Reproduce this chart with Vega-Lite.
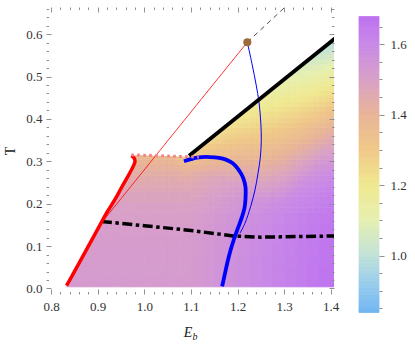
{
"$schema":"https://vega.github.io/schema/vega-lite/v6.json",
"width":288,"height":287,
"autosize":{"type":"none"},
"padding":{"left":46,"top":7,"right":81,"bottom":55},
"config":{"view":{"stroke":null},"axis":{"labelFont":"Liberation Serif","labelFontSize":13,"labelColor":"#333","tickColor":"#909090","tickWidth":1,"domain":false,"grid":false,"titleFont":"Liberation Serif","titleFontWeight":"normal","titleColor":"#222","labelOverlap":false,"labelFlush":false}},
"datasets":{
"hm":[
{"e":0.825,"t":0.005,"v":1.519},{"e":0.85,"t":0.005,"v":1.519},{"e":0.875,"t":0.005,"v":1.519},{"e":0.9,"t":0.005,"v":1.519},{"e":0.925,"t":0.005,"v":1.519},{"e":0.95,"t":0.005,"v":1.519},{"e":0.975,"t":0.005,"v":1.519},{"e":1.0,"t":0.005,"v":1.519},{"e":1.025,"t":0.005,"v":1.519},{"e":1.05,"t":0.005,"v":1.519},{"e":1.075,"t":0.005,"v":1.519},{"e":1.1,"t":0.005,"v":1.525},{"e":1.125,"t":0.005,"v":1.538},{"e":1.15,"t":0.005,"v":1.55},{"e":1.175,"t":0.005,"v":1.563},{"e":1.2,"t":0.005,"v":1.575},{"e":1.225,"t":0.005,"v":1.588},{"e":1.25,"t":0.005,"v":1.6},{"e":1.275,"t":0.005,"v":1.613},{"e":1.3,"t":0.005,"v":1.625},{"e":1.325,"t":0.005,"v":1.638},{"e":1.35,"t":0.005,"v":1.65},{"e":1.375,"t":0.005,"v":1.663},{"e":1.4,"t":0.005,"v":1.675},
{"e":0.825,"t":0.03,"v":1.518},{"e":0.85,"t":0.03,"v":1.518},{"e":0.875,"t":0.03,"v":1.518},{"e":0.9,"t":0.03,"v":1.518},{"e":0.925,"t":0.03,"v":1.518},{"e":0.95,"t":0.03,"v":1.518},{"e":0.975,"t":0.03,"v":1.518},{"e":1.0,"t":0.03,"v":1.518},{"e":1.025,"t":0.03,"v":1.518},{"e":1.05,"t":0.03,"v":1.518},{"e":1.075,"t":0.03,"v":1.518},{"e":1.1,"t":0.03,"v":1.524},{"e":1.125,"t":0.03,"v":1.537},{"e":1.15,"t":0.03,"v":1.549},{"e":1.175,"t":0.03,"v":1.562},{"e":1.2,"t":0.03,"v":1.574},{"e":1.225,"t":0.03,"v":1.587},{"e":1.25,"t":0.03,"v":1.599},{"e":1.275,"t":0.03,"v":1.612},{"e":1.3,"t":0.03,"v":1.624},{"e":1.325,"t":0.03,"v":1.637},{"e":1.35,"t":0.03,"v":1.649},{"e":1.375,"t":0.03,"v":1.662},{"e":1.4,"t":0.03,"v":1.674},
{"e":0.85,"t":0.055,"v":1.517},{"e":0.875,"t":0.055,"v":1.517},{"e":0.9,"t":0.055,"v":1.517},{"e":0.925,"t":0.055,"v":1.517},{"e":0.95,"t":0.055,"v":1.517},{"e":0.975,"t":0.055,"v":1.517},{"e":1.0,"t":0.055,"v":1.517},{"e":1.025,"t":0.055,"v":1.517},{"e":1.05,"t":0.055,"v":1.517},{"e":1.075,"t":0.055,"v":1.517},{"e":1.1,"t":0.055,"v":1.523},{"e":1.125,"t":0.055,"v":1.536},{"e":1.15,"t":0.055,"v":1.548},{"e":1.175,"t":0.055,"v":1.561},{"e":1.2,"t":0.055,"v":1.573},{"e":1.225,"t":0.055,"v":1.586},{"e":1.25,"t":0.055,"v":1.598},{"e":1.275,"t":0.055,"v":1.611},{"e":1.3,"t":0.055,"v":1.623},{"e":1.325,"t":0.055,"v":1.636},{"e":1.35,"t":0.055,"v":1.648},{"e":1.375,"t":0.055,"v":1.661},{"e":1.4,"t":0.055,"v":1.673},
{"e":0.85,"t":0.08,"v":1.515},{"e":0.875,"t":0.08,"v":1.515},{"e":0.9,"t":0.08,"v":1.515},{"e":0.925,"t":0.08,"v":1.515},{"e":0.95,"t":0.08,"v":1.515},{"e":0.975,"t":0.08,"v":1.515},{"e":1.0,"t":0.08,"v":1.515},{"e":1.025,"t":0.08,"v":1.515},{"e":1.05,"t":0.08,"v":1.515},{"e":1.075,"t":0.08,"v":1.515},{"e":1.1,"t":0.08,"v":1.521},{"e":1.125,"t":0.08,"v":1.534},{"e":1.15,"t":0.08,"v":1.546},{"e":1.175,"t":0.08,"v":1.559},{"e":1.2,"t":0.08,"v":1.571},{"e":1.225,"t":0.08,"v":1.584},{"e":1.25,"t":0.08,"v":1.596},{"e":1.275,"t":0.08,"v":1.609},{"e":1.3,"t":0.08,"v":1.621},{"e":1.325,"t":0.08,"v":1.634},{"e":1.35,"t":0.08,"v":1.646},{"e":1.375,"t":0.08,"v":1.659},{"e":1.4,"t":0.08,"v":1.671},
{"e":0.875,"t":0.105,"v":1.513},{"e":0.9,"t":0.105,"v":1.513},{"e":0.925,"t":0.105,"v":1.513},{"e":0.95,"t":0.105,"v":1.513},{"e":0.975,"t":0.105,"v":1.513},{"e":1.0,"t":0.105,"v":1.513},{"e":1.025,"t":0.105,"v":1.513},{"e":1.05,"t":0.105,"v":1.513},{"e":1.075,"t":0.105,"v":1.513},{"e":1.1,"t":0.105,"v":1.519},{"e":1.125,"t":0.105,"v":1.532},{"e":1.15,"t":0.105,"v":1.544},{"e":1.175,"t":0.105,"v":1.557},{"e":1.2,"t":0.105,"v":1.569},{"e":1.225,"t":0.105,"v":1.582},{"e":1.25,"t":0.105,"v":1.594},{"e":1.275,"t":0.105,"v":1.607},{"e":1.3,"t":0.105,"v":1.619},{"e":1.325,"t":0.105,"v":1.632},{"e":1.35,"t":0.105,"v":1.644},{"e":1.375,"t":0.105,"v":1.657},{"e":1.4,"t":0.105,"v":1.669},
{"e":0.875,"t":0.13,"v":1.509},{"e":0.9,"t":0.13,"v":1.509},{"e":0.925,"t":0.13,"v":1.509},{"e":0.95,"t":0.13,"v":1.509},{"e":0.975,"t":0.13,"v":1.509},{"e":1.0,"t":0.13,"v":1.509},{"e":1.025,"t":0.13,"v":1.509},{"e":1.05,"t":0.13,"v":1.509},{"e":1.075,"t":0.13,"v":1.509},{"e":1.1,"t":0.13,"v":1.515},{"e":1.125,"t":0.13,"v":1.528},{"e":1.15,"t":0.13,"v":1.54},{"e":1.175,"t":0.13,"v":1.553},{"e":1.2,"t":0.13,"v":1.565},{"e":1.225,"t":0.13,"v":1.578},{"e":1.25,"t":0.13,"v":1.59},{"e":1.275,"t":0.13,"v":1.603},{"e":1.3,"t":0.13,"v":1.615},{"e":1.325,"t":0.13,"v":1.628},{"e":1.35,"t":0.13,"v":1.64},{"e":1.375,"t":0.13,"v":1.653},{"e":1.4,"t":0.13,"v":1.665},
{"e":0.9,"t":0.155,"v":1.503},{"e":0.925,"t":0.155,"v":1.503},{"e":0.95,"t":0.155,"v":1.503},{"e":0.975,"t":0.155,"v":1.503},{"e":1.0,"t":0.155,"v":1.503},{"e":1.025,"t":0.155,"v":1.503},{"e":1.05,"t":0.155,"v":1.503},{"e":1.075,"t":0.155,"v":1.503},{"e":1.1,"t":0.155,"v":1.509},{"e":1.125,"t":0.155,"v":1.522},{"e":1.15,"t":0.155,"v":1.534},{"e":1.175,"t":0.155,"v":1.547},{"e":1.2,"t":0.155,"v":1.559},{"e":1.225,"t":0.155,"v":1.572},{"e":1.25,"t":0.155,"v":1.584},{"e":1.275,"t":0.155,"v":1.597},{"e":1.3,"t":0.155,"v":1.609},{"e":1.325,"t":0.155,"v":1.622},{"e":1.35,"t":0.155,"v":1.634},{"e":1.375,"t":0.155,"v":1.647},{"e":1.4,"t":0.155,"v":1.659},
{"e":0.9,"t":0.18,"v":1.493},{"e":0.925,"t":0.18,"v":1.493},{"e":0.95,"t":0.18,"v":1.493},{"e":0.975,"t":0.18,"v":1.493},{"e":1.0,"t":0.18,"v":1.493},{"e":1.025,"t":0.18,"v":1.493},{"e":1.05,"t":0.18,"v":1.493},{"e":1.075,"t":0.18,"v":1.493},
{"e":0.925,"t":0.205,"v":1.48},{"e":0.95,"t":0.205,"v":1.48},{"e":0.975,"t":0.205,"v":1.48},{"e":1.0,"t":0.205,"v":1.48},{"e":1.025,"t":0.205,"v":1.48},{"e":1.05,"t":0.205,"v":1.48},{"e":1.075,"t":0.205,"v":1.48},
{"e":0.925,"t":0.23,"v":1.46}
],
"hf":[
{"e":0.9375,"t":0.23,"v":1.465},{"e":0.9375,"t":0.2425,"v":1.454},{"e":0.9375,"t":0.255,"v":1.443},{"e":0.9375,"t":0.2675,"v":1.429},{"e":0.9375,"t":0.28,"v":1.413},{"e":0.9375,"t":0.2925,"v":1.393},{"e":0.9375,"t":0.305,"v":1.373},
{"e":0.95,"t":0.23,"v":1.465},{"e":0.95,"t":0.2425,"v":1.454},{"e":0.95,"t":0.255,"v":1.443},{"e":0.95,"t":0.2675,"v":1.429},{"e":0.95,"t":0.28,"v":1.413},{"e":0.95,"t":0.2925,"v":1.393},{"e":0.95,"t":0.305,"v":1.373},
{"e":0.9625,"t":0.23,"v":1.465},{"e":0.9625,"t":0.2425,"v":1.454},{"e":0.9625,"t":0.255,"v":1.443},{"e":0.9625,"t":0.2675,"v":1.429},{"e":0.9625,"t":0.28,"v":1.413},{"e":0.9625,"t":0.2925,"v":1.393},{"e":0.9625,"t":0.305,"v":1.373},
{"e":0.975,"t":0.23,"v":1.465},{"e":0.975,"t":0.2425,"v":1.454},{"e":0.975,"t":0.255,"v":1.443},{"e":0.975,"t":0.2675,"v":1.429},{"e":0.975,"t":0.28,"v":1.413},{"e":0.975,"t":0.2925,"v":1.393},{"e":0.975,"t":0.305,"v":1.373},
{"e":0.9875,"t":0.23,"v":1.465},{"e":0.9875,"t":0.2425,"v":1.454},{"e":0.9875,"t":0.255,"v":1.443},{"e":0.9875,"t":0.2675,"v":1.429},{"e":0.9875,"t":0.28,"v":1.413},{"e":0.9875,"t":0.2925,"v":1.393},{"e":0.9875,"t":0.305,"v":1.373},
{"e":1.0,"t":0.23,"v":1.465},{"e":1.0,"t":0.2425,"v":1.454},{"e":1.0,"t":0.255,"v":1.443},{"e":1.0,"t":0.2675,"v":1.429},{"e":1.0,"t":0.28,"v":1.413},{"e":1.0,"t":0.2925,"v":1.393},{"e":1.0,"t":0.305,"v":1.373},
{"e":1.0125,"t":0.23,"v":1.465},{"e":1.0125,"t":0.2425,"v":1.454},{"e":1.0125,"t":0.255,"v":1.443},{"e":1.0125,"t":0.2675,"v":1.429},{"e":1.0125,"t":0.28,"v":1.413},{"e":1.0125,"t":0.2925,"v":1.393},{"e":1.0125,"t":0.305,"v":1.373},
{"e":1.025,"t":0.23,"v":1.465},{"e":1.025,"t":0.2425,"v":1.454},{"e":1.025,"t":0.255,"v":1.443},{"e":1.025,"t":0.2675,"v":1.429},{"e":1.025,"t":0.28,"v":1.413},{"e":1.025,"t":0.2925,"v":1.393},{"e":1.025,"t":0.305,"v":1.373},
{"e":1.0375,"t":0.23,"v":1.465},{"e":1.0375,"t":0.2425,"v":1.454},{"e":1.0375,"t":0.255,"v":1.443},{"e":1.0375,"t":0.2675,"v":1.429},{"e":1.0375,"t":0.28,"v":1.413},{"e":1.0375,"t":0.2925,"v":1.393},{"e":1.0375,"t":0.305,"v":1.373},
{"e":1.05,"t":0.23,"v":1.465},{"e":1.05,"t":0.2425,"v":1.454},{"e":1.05,"t":0.255,"v":1.443},{"e":1.05,"t":0.2675,"v":1.429},{"e":1.05,"t":0.28,"v":1.413},{"e":1.05,"t":0.2925,"v":1.393},{"e":1.05,"t":0.305,"v":1.373},
{"e":1.0625,"t":0.23,"v":1.465},{"e":1.0625,"t":0.2425,"v":1.454},{"e":1.0625,"t":0.255,"v":1.443},{"e":1.0625,"t":0.2675,"v":1.429},{"e":1.0625,"t":0.28,"v":1.405},{"e":1.0625,"t":0.2925,"v":1.38},{"e":1.0625,"t":0.305,"v":1.345},
{"e":1.075,"t":0.23,"v":1.465},{"e":1.075,"t":0.2425,"v":1.454},{"e":1.075,"t":0.255,"v":1.44},{"e":1.075,"t":0.2675,"v":1.42},{"e":1.075,"t":0.28,"v":1.395},{"e":1.075,"t":0.2925,"v":1.365},{"e":1.075,"t":0.305,"v":1.33},
{"e":1.0875,"t":0.23,"v":1.462},{"e":1.0875,"t":0.2425,"v":1.452},{"e":1.0875,"t":0.255,"v":1.438},{"e":1.0875,"t":0.2675,"v":1.415},{"e":1.0875,"t":0.28,"v":1.39},{"e":1.0875,"t":0.2925,"v":1.36},{"e":1.0875,"t":0.305,"v":1.32},
{"e":1.1,"t":0.18,"v":1.499},{"e":1.1,"t":0.1925,"v":1.493},{"e":1.1,"t":0.205,"v":1.486},{"e":1.1,"t":0.2175,"v":1.478},{"e":1.1,"t":0.23,"v":1.468},{"e":1.1,"t":0.2425,"v":1.457},{"e":1.1,"t":0.255,"v":1.446},{"e":1.1,"t":0.2675,"v":1.432},{"e":1.1,"t":0.28,"v":1.394},{"e":1.1,"t":0.2925,"v":1.356},{"e":1.1,"t":0.305,"v":1.318},{"e":1.1,"t":0.3175,"v":1.284},
{"e":1.1125,"t":0.18,"v":1.505},{"e":1.1125,"t":0.1925,"v":1.499},{"e":1.1125,"t":0.205,"v":1.493},{"e":1.1125,"t":0.2175,"v":1.484},{"e":1.1125,"t":0.23,"v":1.474},{"e":1.1125,"t":0.2425,"v":1.464},{"e":1.1125,"t":0.255,"v":1.452},{"e":1.1125,"t":0.2675,"v":1.438},{"e":1.1125,"t":0.28,"v":1.403},{"e":1.1125,"t":0.2925,"v":1.368},{"e":1.1125,"t":0.305,"v":1.334},{"e":1.1125,"t":0.3175,"v":1.299},{"e":1.1125,"t":0.33,"v":1.273},
{"e":1.125,"t":0.18,"v":1.511},{"e":1.125,"t":0.1925,"v":1.505},{"e":1.125,"t":0.205,"v":1.499},{"e":1.125,"t":0.2175,"v":1.491},{"e":1.125,"t":0.23,"v":1.481},{"e":1.125,"t":0.2425,"v":1.47},{"e":1.125,"t":0.255,"v":1.458},{"e":1.125,"t":0.2675,"v":1.441},{"e":1.125,"t":0.28,"v":1.409},{"e":1.125,"t":0.2925,"v":1.378},{"e":1.125,"t":0.305,"v":1.346},{"e":1.125,"t":0.3175,"v":1.314},{"e":1.125,"t":0.33,"v":1.282},{"e":1.125,"t":0.3425,"v":1.262},
{"e":1.1375,"t":0.18,"v":1.517},{"e":1.1375,"t":0.1925,"v":1.512},{"e":1.1375,"t":0.205,"v":1.505},{"e":1.1375,"t":0.2175,"v":1.497},{"e":1.1375,"t":0.23,"v":1.487},{"e":1.1375,"t":0.2425,"v":1.476},{"e":1.1375,"t":0.255,"v":1.465},{"e":1.1375,"t":0.2675,"v":1.444},{"e":1.1375,"t":0.28,"v":1.415},{"e":1.1375,"t":0.2925,"v":1.385},{"e":1.1375,"t":0.305,"v":1.355},{"e":1.1375,"t":0.3175,"v":1.325},{"e":1.1375,"t":0.33,"v":1.296},{"e":1.1375,"t":0.3425,"v":1.266},{"e":1.1375,"t":0.355,"v":1.251},
{"e":1.15,"t":0.18,"v":1.524},{"e":1.15,"t":0.1925,"v":1.518},{"e":1.15,"t":0.205,"v":1.511},{"e":1.15,"t":0.2175,"v":1.503},{"e":1.15,"t":0.23,"v":1.493},{"e":1.15,"t":0.2425,"v":1.482},{"e":1.15,"t":0.255,"v":1.471},{"e":1.15,"t":0.2675,"v":1.447},{"e":1.15,"t":0.28,"v":1.419},{"e":1.15,"t":0.2925,"v":1.391},{"e":1.15,"t":0.305,"v":1.363},{"e":1.15,"t":0.3175,"v":1.335},{"e":1.15,"t":0.33,"v":1.307},{"e":1.15,"t":0.3425,"v":1.279},{"e":1.15,"t":0.355,"v":1.251},{"e":1.15,"t":0.3675,"v":1.239},
{"e":1.1625,"t":0.18,"v":1.53},{"e":1.1625,"t":0.1925,"v":1.524},{"e":1.1625,"t":0.205,"v":1.518},{"e":1.1625,"t":0.2175,"v":1.509},{"e":1.1625,"t":0.23,"v":1.499},{"e":1.1625,"t":0.2425,"v":1.489},{"e":1.1625,"t":0.255,"v":1.474},{"e":1.1625,"t":0.2675,"v":1.448},{"e":1.1625,"t":0.28,"v":1.421},{"e":1.1625,"t":0.2925,"v":1.395},{"e":1.1625,"t":0.305,"v":1.368},{"e":1.1625,"t":0.3175,"v":1.342},{"e":1.1625,"t":0.33,"v":1.315},{"e":1.1625,"t":0.3425,"v":1.289},{"e":1.1625,"t":0.355,"v":1.262},{"e":1.1625,"t":0.3675,"v":1.236},{"e":1.1625,"t":0.38,"v":1.228},
{"e":1.175,"t":0.18,"v":1.536},{"e":1.175,"t":0.1925,"v":1.53},{"e":1.175,"t":0.205,"v":1.524},{"e":1.175,"t":0.2175,"v":1.516},{"e":1.175,"t":0.23,"v":1.506},{"e":1.175,"t":0.2425,"v":1.495},{"e":1.175,"t":0.255,"v":1.472},{"e":1.175,"t":0.2675,"v":1.447},{"e":1.175,"t":0.28,"v":1.422},{"e":1.175,"t":0.2925,"v":1.397},{"e":1.175,"t":0.305,"v":1.372},{"e":1.175,"t":0.3175,"v":1.346},{"e":1.175,"t":0.33,"v":1.321},{"e":1.175,"t":0.3425,"v":1.296},{"e":1.175,"t":0.355,"v":1.271},{"e":1.175,"t":0.3675,"v":1.246},{"e":1.175,"t":0.38,"v":1.221},{"e":1.175,"t":0.3925,"v":1.217},
{"e":1.1875,"t":0.18,"v":1.542},{"e":1.1875,"t":0.1925,"v":1.537},{"e":1.1875,"t":0.205,"v":1.53},{"e":1.1875,"t":0.2175,"v":1.522},{"e":1.1875,"t":0.23,"v":1.512},{"e":1.1875,"t":0.2425,"v":1.494},{"e":1.1875,"t":0.255,"v":1.47},{"e":1.1875,"t":0.2675,"v":1.446},{"e":1.1875,"t":0.28,"v":1.422},{"e":1.1875,"t":0.2925,"v":1.398},{"e":1.1875,"t":0.305,"v":1.374},{"e":1.1875,"t":0.3175,"v":1.35},{"e":1.1875,"t":0.33,"v":1.326},{"e":1.1875,"t":0.3425,"v":1.302},{"e":1.1875,"t":0.355,"v":1.279},{"e":1.1875,"t":0.3675,"v":1.255},{"e":1.1875,"t":0.38,"v":1.231},{"e":1.1875,"t":0.3925,"v":1.207},
{"e":1.2,"t":0.18,"v":1.549},{"e":1.2,"t":0.1925,"v":1.543},{"e":1.2,"t":0.205,"v":1.536},{"e":1.2,"t":0.2175,"v":1.528},{"e":1.2,"t":0.23,"v":1.514},{"e":1.2,"t":0.2425,"v":1.491},{"e":1.2,"t":0.255,"v":1.468},{"e":1.2,"t":0.2675,"v":1.445},{"e":1.2,"t":0.28,"v":1.423},{"e":1.2,"t":0.2925,"v":1.4},{"e":1.2,"t":0.305,"v":1.377},{"e":1.2,"t":0.3175,"v":1.354},{"e":1.2,"t":0.33,"v":1.331},{"e":1.2,"t":0.3425,"v":1.308},{"e":1.2,"t":0.355,"v":1.285},{"e":1.2,"t":0.3675,"v":1.262},{"e":1.2,"t":0.38,"v":1.239},{"e":1.2,"t":0.3925,"v":1.216},{"e":1.2,"t":0.405,"v":1.194},
{"e":1.2125,"t":0.18,"v":1.555},{"e":1.2125,"t":0.1925,"v":1.549},{"e":1.2125,"t":0.205,"v":1.543},{"e":1.2125,"t":0.2175,"v":1.533},{"e":1.2125,"t":0.23,"v":1.511},{"e":1.2125,"t":0.2425,"v":1.489},{"e":1.2125,"t":0.255,"v":1.467},{"e":1.2125,"t":0.2675,"v":1.445},{"e":1.2125,"t":0.28,"v":1.423},{"e":1.2125,"t":0.2925,"v":1.4},{"e":1.2125,"t":0.305,"v":1.378},{"e":1.2125,"t":0.3175,"v":1.356},{"e":1.2125,"t":0.33,"v":1.334},{"e":1.2125,"t":0.3425,"v":1.312},{"e":1.2125,"t":0.355,"v":1.29},{"e":1.2125,"t":0.3675,"v":1.268},{"e":1.2125,"t":0.38,"v":1.245},{"e":1.2125,"t":0.3925,"v":1.223},{"e":1.2125,"t":0.405,"v":1.201},{"e":1.2125,"t":0.4175,"v":1.183},
{"e":1.225,"t":0.18,"v":1.561},{"e":1.225,"t":0.1925,"v":1.555},{"e":1.225,"t":0.205,"v":1.549},{"e":1.225,"t":0.2175,"v":1.53},{"e":1.225,"t":0.23,"v":1.508},{"e":1.225,"t":0.2425,"v":1.487},{"e":1.225,"t":0.255,"v":1.466},{"e":1.225,"t":0.2675,"v":1.444},{"e":1.225,"t":0.28,"v":1.423},{"e":1.225,"t":0.2925,"v":1.401},{"e":1.225,"t":0.305,"v":1.38},{"e":1.225,"t":0.3175,"v":1.358},{"e":1.225,"t":0.33,"v":1.337},{"e":1.225,"t":0.3425,"v":1.316},{"e":1.225,"t":0.355,"v":1.294},{"e":1.225,"t":0.3675,"v":1.273},{"e":1.225,"t":0.38,"v":1.251},{"e":1.225,"t":0.3925,"v":1.23},{"e":1.225,"t":0.405,"v":1.208},{"e":1.225,"t":0.4175,"v":1.187},{"e":1.225,"t":0.43,"v":1.172},
{"e":1.2375,"t":0.18,"v":1.567},{"e":1.2375,"t":0.1925,"v":1.562},{"e":1.2375,"t":0.205,"v":1.55},{"e":1.2375,"t":0.2175,"v":1.529},{"e":1.2375,"t":0.23,"v":1.508},{"e":1.2375,"t":0.2425,"v":1.487},{"e":1.2375,"t":0.255,"v":1.466},{"e":1.2375,"t":0.2675,"v":1.445},{"e":1.2375,"t":0.28,"v":1.424},{"e":1.2375,"t":0.2925,"v":1.403},{"e":1.2375,"t":0.305,"v":1.382},{"e":1.2375,"t":0.3175,"v":1.361},{"e":1.2375,"t":0.33,"v":1.34},{"e":1.2375,"t":0.3425,"v":1.319},{"e":1.2375,"t":0.355,"v":1.298},{"e":1.2375,"t":0.3675,"v":1.278},{"e":1.2375,"t":0.38,"v":1.257},{"e":1.2375,"t":0.3925,"v":1.236},{"e":1.2375,"t":0.405,"v":1.215},{"e":1.2375,"t":0.4175,"v":1.194},{"e":1.2375,"t":0.43,"v":1.173},{"e":1.2375,"t":0.4425,"v":1.161},
{"e":1.25,"t":0.18,"v":1.574},{"e":1.25,"t":0.1925,"v":1.568},{"e":1.25,"t":0.205,"v":1.55},{"e":1.25,"t":0.2175,"v":1.53},{"e":1.25,"t":0.23,"v":1.509},{"e":1.25,"t":0.2425,"v":1.489},{"e":1.25,"t":0.255,"v":1.468},{"e":1.25,"t":0.2675,"v":1.447},{"e":1.25,"t":0.28,"v":1.427},{"e":1.25,"t":0.2925,"v":1.406},{"e":1.25,"t":0.305,"v":1.386},{"e":1.25,"t":0.3175,"v":1.365},{"e":1.25,"t":0.33,"v":1.344},{"e":1.25,"t":0.3425,"v":1.324},{"e":1.25,"t":0.355,"v":1.303},{"e":1.25,"t":0.3675,"v":1.283},{"e":1.25,"t":0.38,"v":1.262},{"e":1.25,"t":0.3925,"v":1.241},{"e":1.25,"t":0.405,"v":1.221},{"e":1.25,"t":0.4175,"v":1.2},{"e":1.25,"t":0.43,"v":1.18},{"e":1.25,"t":0.4425,"v":1.159},{"e":1.25,"t":0.455,"v":1.149},
{"e":1.2625,"t":0.18,"v":1.58},{"e":1.2625,"t":0.1925,"v":1.574},{"e":1.2625,"t":0.205,"v":1.554},{"e":1.2625,"t":0.2175,"v":1.534},{"e":1.2625,"t":0.23,"v":1.514},{"e":1.2625,"t":0.2425,"v":1.493},{"e":1.2625,"t":0.255,"v":1.473},{"e":1.2625,"t":0.2675,"v":1.452},{"e":1.2625,"t":0.28,"v":1.432},{"e":1.2625,"t":0.2925,"v":1.411},{"e":1.2625,"t":0.305,"v":1.391},{"e":1.2625,"t":0.3175,"v":1.37},{"e":1.2625,"t":0.33,"v":1.35},{"e":1.2625,"t":0.3425,"v":1.33},{"e":1.2625,"t":0.355,"v":1.309},{"e":1.2625,"t":0.3675,"v":1.289},{"e":1.2625,"t":0.38,"v":1.268},{"e":1.2625,"t":0.3925,"v":1.248},{"e":1.2625,"t":0.405,"v":1.227},{"e":1.2625,"t":0.4175,"v":1.207},{"e":1.2625,"t":0.43,"v":1.186},{"e":1.2625,"t":0.4425,"v":1.166},{"e":1.2625,"t":0.455,"v":1.145},{"e":1.2625,"t":0.4675,"v":1.138},
{"e":1.275,"t":0.18,"v":1.586},{"e":1.275,"t":0.1925,"v":1.58},{"e":1.275,"t":0.205,"v":1.562},{"e":1.275,"t":0.2175,"v":1.542},{"e":1.275,"t":0.23,"v":1.521},{"e":1.275,"t":0.2425,"v":1.501},{"e":1.275,"t":0.255,"v":1.48},{"e":1.275,"t":0.2675,"v":1.46},{"e":1.275,"t":0.28,"v":1.439},{"e":1.275,"t":0.2925,"v":1.419},{"e":1.275,"t":0.305,"v":1.398},{"e":1.275,"t":0.3175,"v":1.378},{"e":1.275,"t":0.33,"v":1.357},{"e":1.275,"t":0.3425,"v":1.337},{"e":1.275,"t":0.355,"v":1.316},{"e":1.275,"t":0.3675,"v":1.296},{"e":1.275,"t":0.38,"v":1.275},{"e":1.275,"t":0.3925,"v":1.255},{"e":1.275,"t":0.405,"v":1.234},{"e":1.275,"t":0.4175,"v":1.214},{"e":1.275,"t":0.43,"v":1.193},{"e":1.275,"t":0.4425,"v":1.173},{"e":1.275,"t":0.455,"v":1.152},{"e":1.275,"t":0.4675,"v":1.132},{"e":1.275,"t":0.48,"v":1.127},
{"e":1.2875,"t":0.18,"v":1.592},{"e":1.2875,"t":0.1925,"v":1.587},{"e":1.2875,"t":0.205,"v":1.574},{"e":1.2875,"t":0.2175,"v":1.553},{"e":1.2875,"t":0.23,"v":1.533},{"e":1.2875,"t":0.2425,"v":1.512},{"e":1.2875,"t":0.255,"v":1.491},{"e":1.2875,"t":0.2675,"v":1.47},{"e":1.2875,"t":0.28,"v":1.45},{"e":1.2875,"t":0.2925,"v":1.429},{"e":1.2875,"t":0.305,"v":1.408},{"e":1.2875,"t":0.3175,"v":1.388},{"e":1.2875,"t":0.33,"v":1.367},{"e":1.2875,"t":0.3425,"v":1.346},{"e":1.2875,"t":0.355,"v":1.326},{"e":1.2875,"t":0.3675,"v":1.305},{"e":1.2875,"t":0.38,"v":1.284},{"e":1.2875,"t":0.3925,"v":1.263},{"e":1.2875,"t":0.405,"v":1.243},{"e":1.2875,"t":0.4175,"v":1.222},{"e":1.2875,"t":0.43,"v":1.201},{"e":1.2875,"t":0.4425,"v":1.181},{"e":1.2875,"t":0.455,"v":1.16},{"e":1.2875,"t":0.4675,"v":1.139},{"e":1.2875,"t":0.48,"v":1.119},{"e":1.2875,"t":0.4925,"v":1.116},
{"e":1.3,"t":0.18,"v":1.599},{"e":1.3,"t":0.1925,"v":1.593},{"e":1.3,"t":0.205,"v":1.586},{"e":1.3,"t":0.2175,"v":1.566},{"e":1.3,"t":0.23,"v":1.545},{"e":1.3,"t":0.2425,"v":1.524},{"e":1.3,"t":0.255,"v":1.503},{"e":1.3,"t":0.2675,"v":1.482},{"e":1.3,"t":0.28,"v":1.461},{"e":1.3,"t":0.2925,"v":1.44},{"e":1.3,"t":0.305,"v":1.418},{"e":1.3,"t":0.3175,"v":1.397},{"e":1.3,"t":0.33,"v":1.376},{"e":1.3,"t":0.3425,"v":1.355},{"e":1.3,"t":0.355,"v":1.334},{"e":1.3,"t":0.3675,"v":1.313},{"e":1.3,"t":0.38,"v":1.292},{"e":1.3,"t":0.3925,"v":1.271},{"e":1.3,"t":0.405,"v":1.25},{"e":1.3,"t":0.4175,"v":1.229},{"e":1.3,"t":0.43,"v":1.207},{"e":1.3,"t":0.4425,"v":1.186},{"e":1.3,"t":0.455,"v":1.165},{"e":1.3,"t":0.4675,"v":1.144},{"e":1.3,"t":0.48,"v":1.123},{"e":1.3,"t":0.4925,"v":1.102},
{"e":1.3125,"t":0.18,"v":1.605},{"e":1.3125,"t":0.1925,"v":1.599},{"e":1.3125,"t":0.205,"v":1.593},{"e":1.3125,"t":0.2175,"v":1.584},{"e":1.3125,"t":0.23,"v":1.564},{"e":1.3125,"t":0.2425,"v":1.542},{"e":1.3125,"t":0.255,"v":1.52},{"e":1.3125,"t":0.2675,"v":1.498},{"e":1.3125,"t":0.28,"v":1.476},{"e":1.3125,"t":0.2925,"v":1.454},{"e":1.3125,"t":0.305,"v":1.433},{"e":1.3125,"t":0.3175,"v":1.411},{"e":1.3125,"t":0.33,"v":1.389},{"e":1.3125,"t":0.3425,"v":1.367},{"e":1.3125,"t":0.355,"v":1.345},{"e":1.3125,"t":0.3675,"v":1.323},{"e":1.3125,"t":0.38,"v":1.302},{"e":1.3125,"t":0.3925,"v":1.28},{"e":1.3125,"t":0.405,"v":1.258},{"e":1.3125,"t":0.4175,"v":1.236},{"e":1.3125,"t":0.43,"v":1.214},{"e":1.3125,"t":0.4425,"v":1.192},{"e":1.3125,"t":0.455,"v":1.171},{"e":1.3125,"t":0.4675,"v":1.149},{"e":1.3125,"t":0.48,"v":1.127},{"e":1.3125,"t":0.4925,"v":1.105},{"e":1.3125,"t":0.505,"v":1.086},
{"e":1.325,"t":0.18,"v":1.611},{"e":1.325,"t":0.1925,"v":1.605},{"e":1.325,"t":0.205,"v":1.599},{"e":1.325,"t":0.2175,"v":1.591},{"e":1.325,"t":0.23,"v":1.581},{"e":1.325,"t":0.2425,"v":1.56},{"e":1.325,"t":0.255,"v":1.537},{"e":1.325,"t":0.2675,"v":1.515},{"e":1.325,"t":0.28,"v":1.492},{"e":1.325,"t":0.2925,"v":1.47},{"e":1.325,"t":0.305,"v":1.447},{"e":1.325,"t":0.3175,"v":1.425},{"e":1.325,"t":0.33,"v":1.402},{"e":1.325,"t":0.3425,"v":1.38},{"e":1.325,"t":0.355,"v":1.357},{"e":1.325,"t":0.3675,"v":1.335},{"e":1.325,"t":0.38,"v":1.312},{"e":1.325,"t":0.3925,"v":1.29},{"e":1.325,"t":0.405,"v":1.267},{"e":1.325,"t":0.4175,"v":1.245},{"e":1.325,"t":0.43,"v":1.222},{"e":1.325,"t":0.4425,"v":1.2},{"e":1.325,"t":0.455,"v":1.177},{"e":1.325,"t":0.4675,"v":1.155},{"e":1.325,"t":0.48,"v":1.132},{"e":1.325,"t":0.4925,"v":1.11},{"e":1.325,"t":0.505,"v":1.087},{"e":1.325,"t":0.5175,"v":1.069},
{"e":1.3375,"t":0.18,"v":1.617},{"e":1.3375,"t":0.1925,"v":1.612},{"e":1.3375,"t":0.205,"v":1.605},{"e":1.3375,"t":0.2175,"v":1.597},{"e":1.3375,"t":0.23,"v":1.587},{"e":1.3375,"t":0.2425,"v":1.576},{"e":1.3375,"t":0.255,"v":1.558},{"e":1.3375,"t":0.2675,"v":1.534},{"e":1.3375,"t":0.28,"v":1.511},{"e":1.3375,"t":0.2925,"v":1.488},{"e":1.3375,"t":0.305,"v":1.464},{"e":1.3375,"t":0.3175,"v":1.441},{"e":1.3375,"t":0.33,"v":1.418},{"e":1.3375,"t":0.3425,"v":1.395},{"e":1.3375,"t":0.355,"v":1.371},{"e":1.3375,"t":0.3675,"v":1.348},{"e":1.3375,"t":0.38,"v":1.325},{"e":1.3375,"t":0.3925,"v":1.302},{"e":1.3375,"t":0.405,"v":1.278},{"e":1.3375,"t":0.4175,"v":1.255},{"e":1.3375,"t":0.43,"v":1.232},{"e":1.3375,"t":0.4425,"v":1.209},{"e":1.3375,"t":0.455,"v":1.185},{"e":1.3375,"t":0.4675,"v":1.162},{"e":1.3375,"t":0.48,"v":1.139},{"e":1.3375,"t":0.4925,"v":1.115},{"e":1.3375,"t":0.505,"v":1.092},{"e":1.3375,"t":0.5175,"v":1.069},{"e":1.3375,"t":0.53,"v":1.053},
{"e":1.35,"t":0.18,"v":1.624},{"e":1.35,"t":0.1925,"v":1.618},{"e":1.35,"t":0.205,"v":1.611},{"e":1.35,"t":0.2175,"v":1.603},{"e":1.35,"t":0.23,"v":1.593},{"e":1.35,"t":0.2425,"v":1.582},{"e":1.35,"t":0.255,"v":1.571},{"e":1.35,"t":0.2675,"v":1.549},{"e":1.35,"t":0.28,"v":1.525},{"e":1.35,"t":0.2925,"v":1.502},{"e":1.35,"t":0.305,"v":1.478},{"e":1.35,"t":0.3175,"v":1.454},{"e":1.35,"t":0.33,"v":1.43},{"e":1.35,"t":0.3425,"v":1.407},{"e":1.35,"t":0.355,"v":1.383},{"e":1.35,"t":0.3675,"v":1.359},{"e":1.35,"t":0.38,"v":1.335},{"e":1.35,"t":0.3925,"v":1.311},{"e":1.35,"t":0.405,"v":1.288},{"e":1.35,"t":0.4175,"v":1.264},{"e":1.35,"t":0.43,"v":1.24},{"e":1.35,"t":0.4425,"v":1.216},{"e":1.35,"t":0.455,"v":1.193},{"e":1.35,"t":0.4675,"v":1.169},{"e":1.35,"t":0.48,"v":1.145},{"e":1.35,"t":0.4925,"v":1.121},{"e":1.35,"t":0.505,"v":1.097},{"e":1.35,"t":0.5175,"v":1.074},{"e":1.35,"t":0.53,"v":1.05},{"e":1.35,"t":0.5425,"v":1.037},
{"e":1.3625,"t":0.18,"v":1.63},{"e":1.3625,"t":0.1925,"v":1.624},{"e":1.3625,"t":0.205,"v":1.618},{"e":1.3625,"t":0.2175,"v":1.609},{"e":1.3625,"t":0.23,"v":1.599},{"e":1.3625,"t":0.2425,"v":1.589},{"e":1.3625,"t":0.255,"v":1.577},{"e":1.3625,"t":0.2675,"v":1.563},{"e":1.3625,"t":0.28,"v":1.545},{"e":1.3625,"t":0.2925,"v":1.521},{"e":1.3625,"t":0.305,"v":1.496},{"e":1.3625,"t":0.3175,"v":1.472},{"e":1.3625,"t":0.33,"v":1.447},{"e":1.3625,"t":0.3425,"v":1.423},{"e":1.3625,"t":0.355,"v":1.398},{"e":1.3625,"t":0.3675,"v":1.374},{"e":1.3625,"t":0.38,"v":1.349},{"e":1.3625,"t":0.3925,"v":1.325},{"e":1.3625,"t":0.405,"v":1.301},{"e":1.3625,"t":0.4175,"v":1.276},{"e":1.3625,"t":0.43,"v":1.252},{"e":1.3625,"t":0.4425,"v":1.227},{"e":1.3625,"t":0.455,"v":1.203},{"e":1.3625,"t":0.4675,"v":1.178},{"e":1.3625,"t":0.48,"v":1.154},{"e":1.3625,"t":0.4925,"v":1.129},{"e":1.3625,"t":0.505,"v":1.105},{"e":1.3625,"t":0.5175,"v":1.081},{"e":1.3625,"t":0.53,"v":1.056},{"e":1.3625,"t":0.5425,"v":1.032},{"e":1.3625,"t":0.555,"v":1.021},
{"e":1.375,"t":0.18,"v":1.636},{"e":1.375,"t":0.1925,"v":1.63},{"e":1.375,"t":0.205,"v":1.624},{"e":1.375,"t":0.2175,"v":1.616},{"e":1.375,"t":0.23,"v":1.606},{"e":1.375,"t":0.2425,"v":1.595},{"e":1.375,"t":0.255,"v":1.583},{"e":1.375,"t":0.2675,"v":1.57},{"e":1.375,"t":0.28,"v":1.554},{"e":1.375,"t":0.2925,"v":1.533},{"e":1.375,"t":0.305,"v":1.512},{"e":1.375,"t":0.3175,"v":1.49},{"e":1.375,"t":0.33,"v":1.465},{"e":1.375,"t":0.3425,"v":1.44},{"e":1.375,"t":0.355,"v":1.414},{"e":1.375,"t":0.3675,"v":1.389},{"e":1.375,"t":0.38,"v":1.364},{"e":1.375,"t":0.3925,"v":1.339},{"e":1.375,"t":0.405,"v":1.314},{"e":1.375,"t":0.4175,"v":1.289},{"e":1.375,"t":0.43,"v":1.264},{"e":1.375,"t":0.4425,"v":1.238},{"e":1.375,"t":0.455,"v":1.213},{"e":1.375,"t":0.4675,"v":1.188},{"e":1.375,"t":0.48,"v":1.163},{"e":1.375,"t":0.4925,"v":1.138},{"e":1.375,"t":0.505,"v":1.113},{"e":1.375,"t":0.5175,"v":1.088},{"e":1.375,"t":0.53,"v":1.062},{"e":1.375,"t":0.5425,"v":1.037},{"e":1.375,"t":0.555,"v":1.012},{"e":1.375,"t":0.5675,"v":1.004},
{"e":1.3875,"t":0.18,"v":1.642},{"e":1.3875,"t":0.1925,"v":1.637},{"e":1.3875,"t":0.205,"v":1.63},{"e":1.3875,"t":0.2175,"v":1.622},{"e":1.3875,"t":0.23,"v":1.612},{"e":1.3875,"t":0.2425,"v":1.601},{"e":1.3875,"t":0.255,"v":1.59},{"e":1.3875,"t":0.2675,"v":1.576},{"e":1.3875,"t":0.28,"v":1.56},{"e":1.3875,"t":0.2925,"v":1.539},{"e":1.3875,"t":0.305,"v":1.518},{"e":1.3875,"t":0.3175,"v":1.497},{"e":1.3875,"t":0.33,"v":1.475},{"e":1.3875,"t":0.3425,"v":1.454},{"e":1.3875,"t":0.355,"v":1.432},{"e":1.3875,"t":0.3675,"v":1.406},{"e":1.3875,"t":0.38,"v":1.38},{"e":1.3875,"t":0.3925,"v":1.355},{"e":1.3875,"t":0.405,"v":1.329},{"e":1.3875,"t":0.4175,"v":1.303},{"e":1.3875,"t":0.43,"v":1.277},{"e":1.3875,"t":0.4425,"v":1.251},{"e":1.3875,"t":0.455,"v":1.226},{"e":1.3875,"t":0.4675,"v":1.2},{"e":1.3875,"t":0.48,"v":1.174},{"e":1.3875,"t":0.4925,"v":1.148},{"e":1.3875,"t":0.505,"v":1.122},{"e":1.3875,"t":0.5175,"v":1.097},{"e":1.3875,"t":0.53,"v":1.071},{"e":1.3875,"t":0.5425,"v":1.045},{"e":1.3875,"t":0.555,"v":1.019},{"e":1.3875,"t":0.5675,"v":0.993},{"e":1.3875,"t":0.58,"v":0.988},
{"e":1.4,"t":0.18,"v":1.649},{"e":1.4,"t":0.1925,"v":1.643},{"e":1.4,"t":0.205,"v":1.636},{"e":1.4,"t":0.2175,"v":1.628},{"e":1.4,"t":0.23,"v":1.618},{"e":1.4,"t":0.2425,"v":1.607},{"e":1.4,"t":0.255,"v":1.596},{"e":1.4,"t":0.2675,"v":1.582},{"e":1.4,"t":0.28,"v":1.566},{"e":1.4,"t":0.2925,"v":1.546},{"e":1.4,"t":0.305,"v":1.524},{"e":1.4,"t":0.3175,"v":1.503},{"e":1.4,"t":0.33,"v":1.482},{"e":1.4,"t":0.3425,"v":1.46},{"e":1.4,"t":0.355,"v":1.439},{"e":1.4,"t":0.3675,"v":1.418},{"e":1.4,"t":0.38,"v":1.397},{"e":1.4,"t":0.3925,"v":1.371},{"e":1.4,"t":0.405,"v":1.345},{"e":1.4,"t":0.4175,"v":1.318},{"e":1.4,"t":0.43,"v":1.292},{"e":1.4,"t":0.4425,"v":1.265},{"e":1.4,"t":0.455,"v":1.239},{"e":1.4,"t":0.4675,"v":1.212},{"e":1.4,"t":0.48,"v":1.186},{"e":1.4,"t":0.4925,"v":1.16},{"e":1.4,"t":0.505,"v":1.133},{"e":1.4,"t":0.5175,"v":1.107},{"e":1.4,"t":0.53,"v":1.08},{"e":1.4,"t":0.5425,"v":1.054},{"e":1.4,"t":0.555,"v":1.027},{"e":1.4,"t":0.5675,"v":1.001},{"e":1.4,"t":0.58,"v":0.974},{"e":1.4,"t":0.5925,"v":0.972}
],
"cb":[
{"c":0.84},{"c":0.85},{"c":0.86},{"c":0.87},{"c":0.88},{"c":0.89},{"c":0.9},{"c":0.91},{"c":0.92},{"c":0.93},{"c":0.94},{"c":0.95},{"c":0.96},{"c":0.97},{"c":0.98},{"c":0.99},{"c":1.0},{"c":1.01},{"c":1.02},{"c":1.03},{"c":1.04},{"c":1.05},{"c":1.06},{"c":1.07},{"c":1.08},{"c":1.09},{"c":1.1},{"c":1.11},{"c":1.12},{"c":1.13},{"c":1.14},{"c":1.15},{"c":1.16},{"c":1.17},{"c":1.18},{"c":1.19},{"c":1.2},{"c":1.21},{"c":1.22},{"c":1.23},{"c":1.24},{"c":1.25},{"c":1.26},{"c":1.27},{"c":1.28},{"c":1.29},{"c":1.3},{"c":1.31},{"c":1.32},{"c":1.33},{"c":1.34},{"c":1.35},{"c":1.36},{"c":1.37},{"c":1.38},{"c":1.39},{"c":1.4},{"c":1.41},{"c":1.42},{"c":1.43},{"c":1.44},{"c":1.45},{"c":1.46},{"c":1.47},{"c":1.48},{"c":1.49},{"c":1.5},{"c":1.51},{"c":1.52},{"c":1.53},{"c":1.54},{"c":1.55},{"c":1.56},{"c":1.57},{"c":1.58},{"c":1.59},{"c":1.6},{"c":1.61},{"c":1.62},{"c":1.63},{"c":1.64},{"c":1.65},{"c":1.66},{"c":1.67}
]
},
"layer":[
{"data":{"name":"hm"},"mark":{"type":"rect","clip":true,"strokeWidth":0.8},
 "encoding":{
  "x":{"field":"e","type":"quantitative","bin":{"binned":true,"step":0.025},"scale":{"domain":[0.789,1.407],"nice":false,"zero":false},
   "axis":{"orient":"bottom","zindex":2,"labelFont":"Liberation Serif","values":[0.8,0.82,0.84,0.86,0.88,0.9,0.92,0.94,0.96,0.98,1.0,1.02,1.04,1.06,1.08,1.1,1.12,1.14,1.16,1.18,1.2,1.22,1.24,1.26,1.28,1.3,1.32,1.34,1.36,1.38,1.4],
   "labelExpr":"abs(datum.value*10-round(datum.value*10))<0.001 ? format(datum.value,'.1f') : ''",
   "tickSize":{"condition":{"test":"abs(datum.value*10-round(datum.value*10))<0.001","value":-5},"value":-2.5},
   "labelPadding":11,"title":"E","titleFontStyle":"italic","titleFontSize":14,"titleX":141.5,"titleY":42,"titleBaseline":"alphabetic"}},
  "y":{"field":"t","type":"quantitative","bin":{"binned":true,"step":0.025},"scale":{"domain":[-0.013,0.664],"nice":false,"zero":false},
   "axis":{"orient":"left","zindex":2,"labelFont":"Liberation Serif","values":[0,0.02,0.04,0.06,0.08,0.1,0.12,0.14,0.16,0.18,0.2,0.22,0.24,0.26,0.28,0.3,0.32,0.34,0.36,0.38,0.4,0.42,0.44,0.46,0.48,0.5,0.52,0.54,0.56,0.58,0.6,0.62,0.64,0.66],
   "labelExpr":"abs(datum.value*10-round(datum.value*10))<0.001 ? format(datum.value,'.1f') : ''",
   "tickSize":{"condition":{"test":"abs(datum.value*10-round(datum.value*10))<0.001","value":-5},"value":-2.5},
   "labelPadding":9,"title":"T","titleFontSize":14,"titleAngle":-90,"titleX":-36,"titleY":143.5,"titleAlign":"center","titleBaseline":"middle"}},
  "fill":{"field":"v","type":"quantitative","scale":{"domain":[0.84,0.9,1.0,1.1,1.2,1.3,1.4,1.5,1.6,1.68],"range":["#72b6f0","#90c8f0","#c2e2d8","#e6f0b0","#f0e890","#f0c888","#e8b498","#d8a0c8","#c888e8","#bd70f0"],"interpolate":"rgb"},"legend":null},
  "stroke":{"field":"v","type":"quantitative","scale":{"domain":[0.84,0.9,1.0,1.1,1.2,1.3,1.4,1.5,1.6,1.68],"range":["#72b6f0","#90c8f0","#c2e2d8","#e6f0b0","#f0e890","#f0c888","#e8b498","#d8a0c8","#c888e8","#bd70f0"],"interpolate":"rgb"},"legend":null}
 }},
{"data":{"name":"hf"},"mark":{"type":"rect","clip":true,"strokeWidth":0.6},
 "encoding":{
  "x":{"field":"e","type":"quantitative","bin":{"binned":true,"step":0.0125},"scale":{"domain":[0.789,1.407],"nice":false,"zero":false},"axis":null},
  "y":{"field":"t","type":"quantitative","bin":{"binned":true,"step":0.0125},"scale":{"domain":[-0.013,0.664],"nice":false,"zero":false},"axis":null},
  "fill":{"field":"v","type":"quantitative","scale":{"domain":[0.84,0.9,1.0,1.1,1.2,1.3,1.4,1.5,1.6,1.68],"range":["#72b6f0","#90c8f0","#c2e2d8","#e6f0b0","#f0e890","#f0c888","#e8b498","#d8a0c8","#c888e8","#bd70f0"],"interpolate":"rgb"},"legend":null},
  "stroke":{"field":"v","type":"quantitative","scale":{"domain":[0.84,0.9,1.0,1.1,1.2,1.3,1.4,1.5,1.6,1.68],"range":["#72b6f0","#90c8f0","#c2e2d8","#e6f0b0","#f0e890","#f0c888","#e8b498","#d8a0c8","#c888e8","#bd70f0"],"interpolate":"rgb"},"legend":null}
 }},
{"data":{"values":[{"e":0.78,"t":-0.02},{"e":0.8325,"t":-0.02},{"e":0.833,"t":0.007},{"e":0.845,"t":0.03},{"e":0.86,"t":0.06},{"e":0.875,"t":0.09},{"e":0.89,"t":0.12},{"e":0.905,"t":0.15},{"e":0.92,"t":0.18},{"e":0.937,"t":0.21},{"e":0.952,"t":0.24},{"e":0.965,"t":0.265},{"e":0.976,"t":0.288},{"e":0.98,"t":0.3},{"e":0.9805,"t":0.315},{"e":1.0,"t":0.3145},{"e":1.05,"t":0.3125},{"e":1.096,"t":0.311},{"e":1.1,"t":0.3165},{"e":1.2,"t":0.405},{"e":1.3,"t":0.4934},{"e":1.41,"t":0.5906},{"e":1.42,"t":0.6}]},
 "mark":{"type":"area","color":"white","clip":true,"opacity":1},
 "encoding":{
  "x":{"field":"e","type":"quantitative","scale":{"domain":[0.789,1.407],"nice":false,"zero":false},
   "axis":{"orient":"top","zindex":2,"values":[0.8,0.82,0.84,0.86,0.88,0.9,0.92,0.94,0.96,0.98,1.0,1.02,1.04,1.06,1.08,1.1,1.12,1.14,1.16,1.18,1.2,1.22,1.24,1.26,1.28,1.3,1.32,1.34,1.36,1.38,1.4],"labels":false,"title":null,
   "tickSize":{"condition":{"test":"abs(datum.value*10-round(datum.value*10))<0.001","value":-5},"value":-2.5}}},
  "y":{"field":"t","type":"quantitative","scale":{"domain":[-0.013,0.664],"nice":false,"zero":false},
   "axis":{"orient":"right","zindex":2,"values":[0,0.02,0.04,0.06,0.08,0.1,0.12,0.14,0.16,0.18,0.2,0.22,0.24,0.26,0.28,0.3,0.32,0.34,0.36,0.38,0.4,0.42,0.44,0.46,0.48,0.5,0.52,0.54,0.56,0.58,0.6,0.62,0.64,0.66],"labels":false,"title":null,
   "tickSize":{"condition":{"test":"abs(datum.value*10-round(datum.value*10))<0.001","value":-5},"value":-2.5}}},
  "y2":{"datum":0.7}
 }},
{"data":{"values":[{"o":1,"e":0.9045,"t":0.15},{"o":2,"e":1.221,"t":0.581}]},
 "mark":{"type":"line","color":"#ff0000","strokeWidth":0.8,"clip":true},
 "encoding":{"x":{"field":"e","type":"quantitative","scale":{"domain":[0.789,1.407],"nice":false,"zero":false},"axis":null},"y":{"field":"t","type":"quantitative","scale":{"domain":[-0.013,0.664],"nice":false,"zero":false},"axis":null},"order":{"field":"o"}}},
{"data":{"values":[{"o":1,"e":1.221,"t":0.581},{"o":2,"e":1.31,"t":0.672}]},
 "mark":{"type":"line","color":"#000000","strokeWidth":0.7,"strokeDash":[5,4],"clip":true},
 "encoding":{"x":{"field":"e","type":"quantitative","scale":{"domain":[0.789,1.407],"nice":false,"zero":false},"axis":null},"y":{"field":"t","type":"quantitative","scale":{"domain":[-0.013,0.664],"nice":false,"zero":false},"axis":null},"order":{"field":"o"}}},
{"data":{"values":[{"o":1,"e":1.221,"t":0.581},{"o":2,"e":1.231,"t":0.53},{"o":3,"e":1.24,"t":0.48},{"o":4,"e":1.246,"t":0.44},{"o":5,"e":1.25,"t":0.39},{"o":6,"e":1.251,"t":0.35},{"o":7,"e":1.249,"t":0.31},{"o":8,"e":1.244,"t":0.272},{"o":9,"e":1.237,"t":0.23},{"o":10,"e":1.228,"t":0.193},{"o":11,"e":1.216,"t":0.154},{"o":12,"e":1.205,"t":0.13}]},
 "mark":{"type":"line","color":"#0000ff","strokeWidth":1,"clip":true,"interpolate":"catmull-rom"},
 "encoding":{"x":{"field":"e","type":"quantitative","scale":{"domain":[0.789,1.407],"nice":false,"zero":false},"axis":null},"y":{"field":"t","type":"quantitative","scale":{"domain":[-0.013,0.664],"nice":false,"zero":false},"axis":null},"order":{"field":"o"}}},
{"data":{"values":[{"o":1,"e":0.909,"t":0.158},{"o":2,"e":1.0,"t":0.148},{"o":3,"e":1.1,"t":0.137},{"o":4,"e":1.19,"t":0.124},{"o":5,"e":1.25,"t":0.121},{"o":6,"e":1.41,"t":0.124}]},
 "mark":{"type":"line","color":"#000000","strokeWidth":3.5,"strokeDash":[10,3.5,3.5,3.5],"clip":true},
 "encoding":{"x":{"field":"e","type":"quantitative","scale":{"domain":[0.789,1.407],"nice":false,"zero":false},"axis":null},"y":{"field":"t","type":"quantitative","scale":{"domain":[-0.013,0.664],"nice":false,"zero":false},"axis":null},"order":{"field":"o"}}},
{"data":{"values":[{"o":1,"e":1.096,"t":0.313},{"o":2,"e":1.41,"t":0.5906}]},
 "mark":{"type":"line","color":"#000000","strokeWidth":3.8,"clip":true},
 "encoding":{"x":{"field":"e","type":"quantitative","scale":{"domain":[0.789,1.407],"nice":false,"zero":false},"axis":null},"y":{"field":"t","type":"quantitative","scale":{"domain":[-0.013,0.664],"nice":false,"zero":false},"axis":null},"order":{"field":"o"}}},
{"data":{"values":[{"o":1,"e":0.833,"t":0.007},{"o":2,"e":0.845,"t":0.03},{"o":3,"e":0.86,"t":0.06},{"o":4,"e":0.875,"t":0.09},{"o":5,"e":0.89,"t":0.12},{"o":6,"e":0.905,"t":0.15},{"o":7,"e":0.92,"t":0.18},{"o":8,"e":0.937,"t":0.21},{"o":9,"e":0.952,"t":0.24},{"o":10,"e":0.965,"t":0.265},{"o":11,"e":0.976,"t":0.288},{"o":12,"e":0.98,"t":0.3},{"o":13,"e":0.978,"t":0.308},{"o":14,"e":0.972,"t":0.313}]},
 "mark":{"type":"line","color":"#ff0000","strokeWidth":3.5,"clip":true,"interpolate":"catmull-rom"},
 "encoding":{"x":{"field":"e","type":"quantitative","scale":{"domain":[0.789,1.407],"nice":false,"zero":false},"axis":null},"y":{"field":"t","type":"quantitative","scale":{"domain":[-0.013,0.664],"nice":false,"zero":false},"axis":null},"order":{"field":"o"}}},
{"data":{"values":[{"o":1,"e":1.167,"t":0.005},{"o":2,"e":1.172,"t":0.03},{"o":3,"e":1.178,"t":0.06},{"o":4,"e":1.185,"t":0.09},{"o":5,"e":1.192,"t":0.115},{"o":6,"e":1.2,"t":0.14},{"o":7,"e":1.21,"t":0.17},{"o":8,"e":1.215,"t":0.19},{"o":9,"e":1.217,"t":0.21},{"o":10,"e":1.217,"t":0.24},{"o":11,"e":1.213,"t":0.258},{"o":12,"e":1.207,"t":0.272},{"o":13,"e":1.199,"t":0.285},{"o":14,"e":1.189,"t":0.296},{"o":15,"e":1.175,"t":0.304},{"o":16,"e":1.16,"t":0.308},{"o":17,"e":1.14,"t":0.31},{"o":18,"e":1.124,"t":0.31},{"o":19,"e":1.11,"t":0.308},{"o":20,"e":1.1,"t":0.305},{"o":21,"e":1.085,"t":0.3}]},
 "mark":{"type":"line","color":"#0000ff","strokeWidth":3.8,"clip":true,"interpolate":"catmull-rom"},
 "encoding":{"x":{"field":"e","type":"quantitative","scale":{"domain":[0.789,1.407],"nice":false,"zero":false},"axis":null},"y":{"field":"t","type":"quantitative","scale":{"domain":[-0.013,0.664],"nice":false,"zero":false},"axis":null},"order":{"field":"o"}}},
{"data":{"values":[{"o":1,"e":0.972,"t":0.315},{"o":2,"e":1.0,"t":0.3145},{"o":3,"e":1.05,"t":0.3125},{"o":4,"e":1.117,"t":0.31}]},
 "mark":{"type":"line","color":"#f08080","strokeWidth":3,"strokeDash":[2.5,3.5],"clip":true},
 "encoding":{"x":{"field":"e","type":"quantitative","scale":{"domain":[0.789,1.407],"nice":false,"zero":false},"axis":null},"y":{"field":"t","type":"quantitative","scale":{"domain":[-0.013,0.664],"nice":false,"zero":false},"axis":null},"order":{"field":"o"}}},
{"data":{"values":[{"e":1.221,"t":0.581}]},
 "mark":{"type":"point","filled":true,"color":"#9c6a3c","size":65,"opacity":1},
 "encoding":{"x":{"field":"e","type":"quantitative","scale":{"domain":[0.789,1.407],"nice":false,"zero":false},"axis":null},"y":{"field":"t","type":"quantitative","scale":{"domain":[-0.013,0.664],"nice":false,"zero":false},"axis":null}}},
{"mark":{"type":"text","text":"h","font":"Liberation Serif","fontSize":13,"fontStyle":"italic","align":"right","baseline":"middle","color":"#222"},
 "encoding":{"x":{"datum":0.863,"type":"quantitative","scale":{"domain":[0.789,1.407],"nice":false,"zero":false},"axis":null},"y":{"datum":0.598,"type":"quantitative","scale":{"domain":[-0.013,0.664],"nice":false,"zero":false},"axis":null}}},
{"mark":{"type":"text","text":"=1","font":"Liberation Serif","fontSize":13,"align":"left","baseline":"middle","color":"#222"},
 "encoding":{"x":{"datum":0.863,"type":"quantitative","scale":{"domain":[0.789,1.407],"nice":false,"zero":false},"axis":null},"y":{"datum":0.598,"type":"quantitative","scale":{"domain":[-0.013,0.664],"nice":false,"zero":false},"axis":null}}},
{"mark":{"type":"rect","filled":false,"stroke":"#a0a0a0","strokeWidth":1},
 "encoding":{"x":{"datum":0.789,"type":"quantitative","scale":{"domain":[0.789,1.407],"nice":false,"zero":false},"axis":null},"x2":{"datum":1.407},"y":{"datum":-0.013,"type":"quantitative","scale":{"domain":[-0.013,0.664],"nice":false,"zero":false},"axis":null},"y2":{"datum":0.664}}},
{"data":{"name":"cb"},"mark":{"type":"rect","strokeWidth":0.8},
 "encoding":{
  "x":{"datum":0,"type":"quantitative","scale":{"domain":[0,1],"range":[313,333]},
   "axis":{"orient":"bottom","ticks":false,"labels":false,"domain":false,"title":"b","titleFontSize":10,"titleFontStyle":"italic","titleX":148.5,"titleY":45,"titleBaseline":"alphabetic"}},
  "x2":{"datum":1},
  "y":{"field":"c","type":"quantitative","bin":{"binned":true,"step":0.01},"scale":{"domain":[0.84,1.68],"range":[305,9],"nice":false,"zero":false},
   "axis":{"orient":"right","offset":45,"zindex":2,"labelFont":"Liberation Serif","values":[0.85,0.9,0.95,1.0,1.05,1.1,1.15,1.2,1.25,1.3,1.35,1.4,1.45,1.5,1.55,1.6,1.65],
   "labelExpr":"abs(datum.value*5-round(datum.value*5))<0.001 ? format(datum.value,'.1f') : ''",
   "tickSize":{"condition":{"test":"abs(datum.value*5-round(datum.value*5))<0.001","value":5},"value":3},
   "labelPadding":6,"title":null}},
  "fill":{"field":"c","type":"quantitative","scale":{"domain":[0.84,0.9,1.0,1.1,1.2,1.3,1.4,1.5,1.6,1.68],"range":["#72b6f0","#90c8f0","#c2e2d8","#e6f0b0","#f0e890","#f0c888","#e8b498","#d8a0c8","#c888e8","#bd70f0"],"interpolate":"rgb"},"legend":null},
  "stroke":{"field":"c","type":"quantitative","scale":{"domain":[0.84,0.9,1.0,1.1,1.2,1.3,1.4,1.5,1.6,1.68],"range":["#72b6f0","#90c8f0","#c2e2d8","#e6f0b0","#f0e890","#f0c888","#e8b498","#d8a0c8","#c888e8","#bd70f0"],"interpolate":"rgb"},"legend":null}
 }}
],
"resolve":{"scale":{"x":"independent","y":"independent"},"axis":{"x":"independent","y":"independent"}}
}
